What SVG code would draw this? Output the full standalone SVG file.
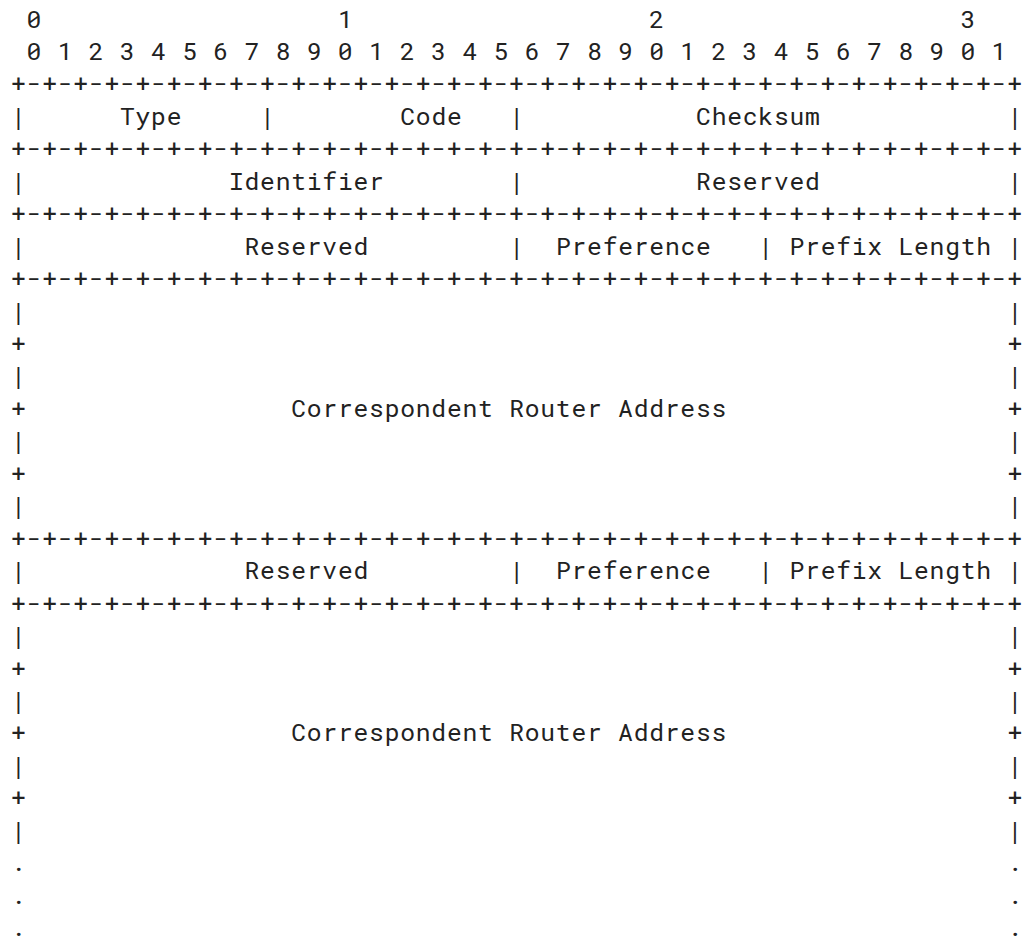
<svg xmlns="http://www.w3.org/2000/svg" width="1026" height="945" viewBox="0 0 1026 945">
  <style>
    text { font-family: "Roboto Mono", "DejaVu Sans Mono", "Liberation Mono", monospace; font-size: 24.7px; letter-spacing: 0.75px; fill: #222; white-space: pre; }
  </style>
  <rect width="1026" height="945" fill="#fff"/>

  <!-- bit numbering ruler -->
  <g id="bit-ruler">
    <text x="26.57" y="27.5">0</text>
    <text x="337.97" y="27.5">1</text>
    <text x="649.37" y="27.5">2</text>
    <text x="960.77" y="27.5">3</text>
    <text x="26.57" y="59.95" xml:space="preserve">0 1 2 3 4 5 6 7 8 9 0 1 2 3 4 5 6 7 8 9 0 1 2 3 4 5 6 7 8 9 0 1</text>
  </g>

  <!-- frame: separator rows and field borders -->
  <g id="connectors">
    <text x="11" y="92.4">+-+-+-+-+-+-+-+-+-+-+-+-+-+-+-+-+-+-+-+-+-+-+-+-+-+-+-+-+-+-+-+-+</text>
    <text x="11" y="157.3">+-+-+-+-+-+-+-+-+-+-+-+-+-+-+-+-+-+-+-+-+-+-+-+-+-+-+-+-+-+-+-+-+</text>
    <text x="11" y="222.2">+-+-+-+-+-+-+-+-+-+-+-+-+-+-+-+-+-+-+-+-+-+-+-+-+-+-+-+-+-+-+-+-+</text>
    <text x="11" y="287.1">+-+-+-+-+-+-+-+-+-+-+-+-+-+-+-+-+-+-+-+-+-+-+-+-+-+-+-+-+-+-+-+-+</text>
    <text x="11" y="546.7">+-+-+-+-+-+-+-+-+-+-+-+-+-+-+-+-+-+-+-+-+-+-+-+-+-+-+-+-+-+-+-+-+</text>
    <text x="11" y="611.6">+-+-+-+-+-+-+-+-+-+-+-+-+-+-+-+-+-+-+-+-+-+-+-+-+-+-+-+-+-+-+-+-+</text>

    <!-- row: Type / Code / Checksum -->
    <text x="11" y="124.85">|</text>
    <text x="260.12" y="124.85">|</text>
    <text x="509.24" y="124.85">|</text>
    <text x="1007.48" y="124.85">|</text>
    <!-- row: Identifier / Reserved -->
    <text x="11" y="189.75">|</text>
    <text x="509.24" y="189.75">|</text>
    <text x="1007.48" y="189.75">|</text>
    <!-- rows: Reserved / Preference / Prefix Length -->
    <text x="11" y="254.65">|</text>
    <text x="509.24" y="254.65">|</text>
    <text x="758.36" y="254.65">|</text>
    <text x="1007.48" y="254.65">|</text>
    <text x="11" y="579.15">|</text>
    <text x="509.24" y="579.15">|</text>
    <text x="758.36" y="579.15">|</text>
    <text x="1007.48" y="579.15">|</text>

    <!-- first address block sides -->
    <text x="11" y="319.55">|</text><text x="1007.48" y="319.55">|</text>
    <text x="11" y="352">+</text><text x="1007.48" y="352">+</text>
    <text x="11" y="384.45">|</text><text x="1007.48" y="384.45">|</text>
    <text x="11" y="416.9">+</text><text x="1007.48" y="416.9">+</text>
    <text x="11" y="449.35">|</text><text x="1007.48" y="449.35">|</text>
    <text x="11" y="481.8">+</text><text x="1007.48" y="481.8">+</text>
    <text x="11" y="514.25">|</text><text x="1007.48" y="514.25">|</text>

    <!-- second address block sides -->
    <text x="11" y="644.05">|</text><text x="1007.48" y="644.05">|</text>
    <text x="11" y="676.5">+</text><text x="1007.48" y="676.5">+</text>
    <text x="11" y="708.95">|</text><text x="1007.48" y="708.95">|</text>
    <text x="11" y="741.4">+</text><text x="1007.48" y="741.4">+</text>
    <text x="11" y="773.85">|</text><text x="1007.48" y="773.85">|</text>
    <text x="11" y="806.3">+</text><text x="1007.48" y="806.3">+</text>
    <text x="11" y="838.75">|</text><text x="1007.48" y="838.75">|</text>

    <!-- continuation dots -->
    <text x="11" y="871.2">.</text><text x="1007.48" y="871.2">.</text>
    <text x="11" y="903.65">.</text><text x="1007.48" y="903.65">.</text>
    <text x="11" y="936.1">.</text><text x="1007.48" y="936.1">.</text>
  </g>

  <!-- field labels -->
  <g id="field-type"><text x="119.99" y="124.85">Type</text></g>
  <g id="field-code"><text x="400.25" y="124.85">Code</text></g>
  <g id="field-checksum"><text x="696.08" y="124.85">Checksum</text></g>
  <g id="field-identifier"><text x="228.98" y="189.75">Identifier</text></g>
  <g id="field-reserved-1"><text x="696.08" y="189.75">Reserved</text></g>

  <g id="field-reserved-2"><text x="244.55" y="254.65">Reserved</text></g>
  <g id="field-preference-1"><text x="555.95" y="254.65">Preference</text></g>
  <g id="field-prefix-length-1"><text x="789.5" y="254.65">Prefix Length</text></g>
  <g id="field-router-address-1"><text x="291.26" y="416.9">Correspondent Router Address</text></g>

  <g id="field-reserved-3"><text x="244.55" y="579.15">Reserved</text></g>
  <g id="field-preference-2"><text x="555.95" y="579.15">Preference</text></g>
  <g id="field-prefix-length-2"><text x="789.5" y="579.15">Prefix Length</text></g>
  <g id="field-router-address-2"><text x="291.26" y="741.4">Correspondent Router Address</text></g>
</svg>
